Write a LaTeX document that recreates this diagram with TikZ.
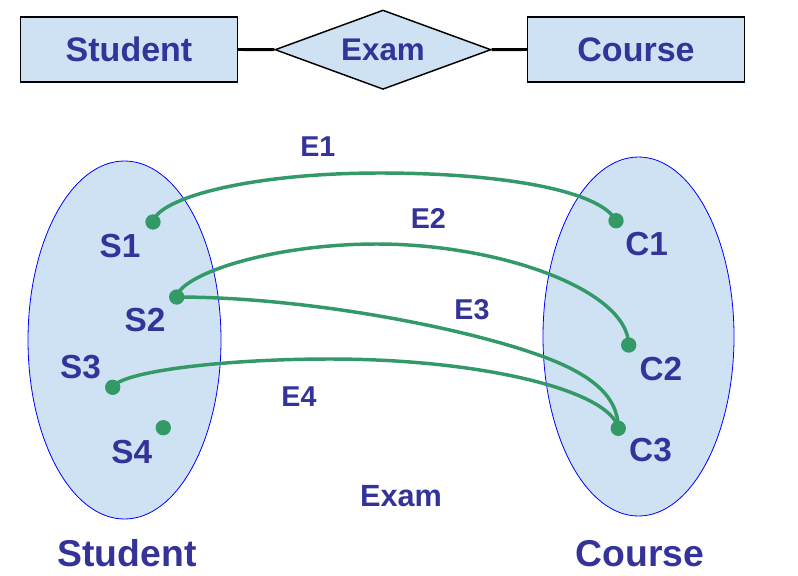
\documentclass[tikz,border=0pt]{standalone}
\usepackage{fontspec}
\setmainfont{Liberation Sans}
\usetikzlibrary{shapes.geometric}
\definecolor{txt}{HTML}{333399}
\definecolor{grn}{HTML}{339966}
\definecolor{lfill}{HTML}{CFE2F3}
\begin{document}
\begin{tikzpicture}[x=0.75pt,y=-0.75pt,
  entity/.style={draw=black, line width=1.1pt, fill=lfill, minimum width=162.5pt, minimum height=48.5pt, inner sep=0, text=txt, font=\bfseries\fontsize{25.5}{30}\selectfont},
  rel/.style={diamond, draw=black, line width=1.1pt, fill=lfill, minimum width=162pt, minimum height=59.5pt, inner sep=0},
  rellabel/.style={text=txt, inner sep=0, font=\bfseries\fontsize{23.5}{28}\selectfont},
  setshape/.style={ellipse, draw=blue, line width=0.6pt, fill=lfill, inner sep=0},
  dot/.style={circle, fill=grn, inner sep=0, minimum size=11.5pt},
  elem/.style={text=txt, font=\bfseries\fontsize{25}{30}\selectfont, anchor=base, inner sep=0},
  elab/.style={text=txt, font=\bfseries\fontsize{21.5}{26}\selectfont, anchor=base, inner sep=0},
  biglab/.style={text=txt, font=\bfseries\fontsize{28}{33}\selectfont, anchor=base, inner sep=0},
  link/.style={draw=grn, line width=2.6pt},
  conn/.style={draw=black, line width=2.2pt}]
\useasboundingbox (0,0) rectangle (798,575);

% ER diagram
\node[entity] (student) at (129,49.5) {Student};
\node[rel] (exam) at (383,49.7) {};
\node[rellabel] (examlbl) at (exam.center) {Exam};
\node[entity] (course) at (636,49.5) {Course};
\draw[conn] (student.east) -- (exam.west);
\draw[conn] (exam.east) -- (course.west);

% sets
\node[setshape, minimum width=144.75pt, minimum height=268.5pt] (sset) at (124.5,340) {};
\node[setshape, minimum width=143.25pt, minimum height=269.25pt] (cset) at (638.5,336.5) {};

% dots
\node[dot] (s1) at (153,222) {};
\node[dot] (s2) at (176.7,297) {};
\node[dot] (s3) at (112.7,387.3) {};
\node[dot] (s4) at (163.3,427.7) {};
\node[dot] (c1) at (616,220.7) {};
\node[dot] (c2) at (628.7,345) {};
\node[dot] (c3) at (618.3,428.3) {};

% links
\draw[link] (s1.center) .. controls (158,198) and (250,173) .. (380,173) .. controls (500,173) and (600,190) .. (c1.center);
\draw[link] (s2.center) .. controls (180,275) and (270,244) .. (376.7,244) .. controls (500,244) and (628,290) .. (c2.center);
\draw[link] (s2.center) .. controls (300,297) and (450,325) .. (530,352) .. controls (590,372) and (618,395) .. (c3.center);
\draw[link] (s3.center) .. controls (120,372) and (220,359) .. (330,359) .. controls (480,359) and (610,390) .. (c3.center);

% element labels
\node[elem] (ls1) at (120,257.3) {S1};
\node[elem] (ls2) at (145,331.7) {S2};
\node[elem] (ls3) at (80.5,378.3) {S3};
\node[elem] (ls4) at (131.7,463.3) {S4};
\node[elem] (lc1) at (646.7,255) {C1};
\node[elem] (lc2) at (660.8,380) {C2};
\node[elem] (lc3) at (650.5,461.7) {C3};

% relationship labels
\node[elab] (le1) at (317.8,156.7) {E1};
\node[elab] (le2) at (428.3,228.3) {E2};
\node[elab] (le3) at (472,319.3) {E3};
\node[elab] (le4) at (299,406) {E4};
\node[elab, font=\bfseries\fontsize{23}{28}\selectfont] (lexam) at (401,506.7) {Exam};

% set names
\node[biglab] (lstudent) at (127,566.7) {Student};
\node[biglab] (lcourse) at (640,566.7) {Course};
\end{tikzpicture}
\end{document}
